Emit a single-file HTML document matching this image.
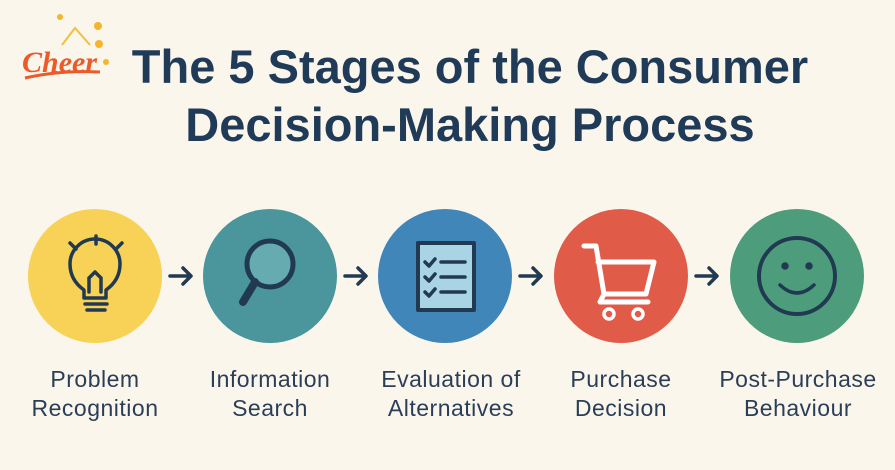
<!DOCTYPE html>
<html><head><style>
body{margin:0;width:895px;height:470px;background:#fbf6ec;overflow:hidden;font-family:"Liberation Sans",sans-serif;}
.t{position:absolute;left:70px;width:800px;text-align:center;color:#1f3b57;font-weight:bold;font-size:47px;line-height:54px;}
.l{position:absolute;width:180px;text-align:center;color:#2a3e58;font-size:23px;line-height:29px;top:365px;letter-spacing:0.5px;}
</style></head><body>
<div class="t" style="top:40px">The 5 Stages of the Consumer</div>
<div class="t" style="top:98px">Decision-Making Process</div>
<svg width="895" height="470" style="position:absolute;left:0;top:0">
<g fill="#f3b52c"><circle cx="60" cy="17" r="3"/><circle cx="98" cy="26" r="4"/><circle cx="106" cy="62" r="3"/><circle cx="99" cy="44" r="4"/></g>
<path d="M62 45 L75 28 L90 45" fill="none" stroke="#f0c040" stroke-width="2"/>
<text x="22" y="72" font-family="Liberation Serif" font-style="italic" font-weight="bold" font-size="30" fill="#ec5a2a">Cheer</text>
<path d="M25 78 Q60 70 100 72" stroke="#ec5a2a" stroke-width="3" fill="none"/>
<circle cx="95" cy="276" r="67" fill="#f8d257"/>
<circle cx="270" cy="276" r="67" fill="#4a969c"/>
<circle cx="445" cy="276" r="67" fill="#4086b9"/>
<circle cx="621" cy="276" r="67" fill="#e05c49"/>
<circle cx="797" cy="276" r="67" fill="#4d9c7c"/>
<g stroke="#213a52" stroke-width="3.5" fill="none" stroke-linecap="round" stroke-linejoin="round">
<path d="M170 276h20M183 268l8 8-8 8M345 276h20M358 268l8 8-8 8M520 276h20M533 268l8 8-8 8M696 276h20M709 268l8 8-8 8"/>
<path d="M96 236v8M70 243l6 6M122 243l-6 6"/>
<path d="M84 298 v-8 q-14-10-14-26 a25 25 0 0 1 50 0 q0 16-14 26 v8 z M89 292 v-14 M101 292 v-14 M89 278 l6-6 6 6 M85 304h22 M87 310h18"/>
<circle cx="270" cy="264" r="23" fill="#65abb0" stroke-width="5"/>
<path d="M255 282 L243 302" stroke-width="8"/>
<rect x="418" y="243" width="56" height="67" fill="#a9d4e6" stroke-width="4"/>
<path d="M425 262l4 4 6-7M441 262h24M425 277l4 4 6-7M441 277h24M425 292l4 4 6-7M441 292h24"/>
<path d="M584 246h12l8 48h42l8-32h-56M604 294l-4 8h48" stroke="#fff" stroke-width="5"/>
<circle cx="609" cy="314" r="5" stroke="#fff"/><circle cx="638" cy="314" r="5" stroke="#fff"/>
<circle cx="797" cy="276" r="38" stroke-width="4"/>
<circle cx="785" cy="266" r="2" fill="#213a52"/><circle cx="809" cy="266" r="2" fill="#213a52"/>
<path d="M780 285 q17 16 34 0"/>
</g>
</svg>
<div class="l" style="left:5px">Problem<br>Recognition</div>
<div class="l" style="left:180px">Information<br>Search</div>
<div class="l" style="left:361px">Evaluation of<br>Alternatives</div>
<div class="l" style="left:531px">Purchase<br>Decision</div>
<div class="l" style="left:708px">Post-Purchase<br>Behaviour</div>
</body></html>
